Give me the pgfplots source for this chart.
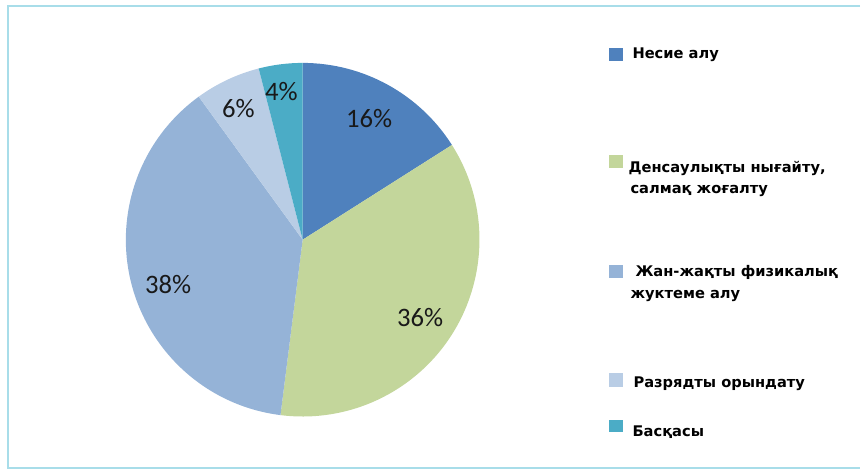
\documentclass[border=0pt]{standalone}
\usepackage{pgfplots}
\pgfplotsset{compat=1.18}
\usepackage{fontspec}
\setmainfont{DejaVu Sans}
\newfontfamily\lab{Carlito}
\definecolor{c1}{HTML}{4F81BD}
\definecolor{c2}{HTML}{C3D69B}
\definecolor{c3}{HTML}{95B3D7}
\definecolor{c4}{HTML}{B9CDE5}
\definecolor{c5}{HTML}{4BACC6}
\definecolor{framec}{HTML}{A8DDE9}
\newcommand\labfont{\lab\fontsize{20}{23}\selectfont}
\newcommand\legfont{\bfseries\fontsize{11}{13}\selectfont}
\begin{document}
\begin{tikzpicture}
\begin{axis}[width=645.75pt,height=352.5pt,scale only axis,
  xmin=0,xmax=861,ymin=0,ymax=470,hide axis,clip=false]
\path (axis cs:0,0) rectangle (axis cs:861,470);
\draw[framec,line width=1.5pt] (axis cs:861,464) -- (axis cs:8,464) -- (axis cs:8,1) -- (axis cs:861,1);
% pie: shares in percent, clockwise from 12 o'clock; label radius and angle shift
\def\cx{303}\def\cy{230}\def\R{177}
\xdef\cum{0}
\foreach \p/\c/\lr/\da in {16/c1/138/0,36/c2/141/-1,38/c3/142/4,6/c4/146/1,4/c5/150/1}{
  \pgfmathsetmacro\aa{90-3.6*\cum}
  \pgfmathsetmacro\ab{90-3.6*(\cum+\p)}
  \pgfmathsetmacro\am{(\aa+\ab)/2+\da}
  \pgfmathsetmacro\sx{\cx+\R*cos(\aa)}
  \pgfmathsetmacro\sy{\cy+\R*sin(\aa)}
  \pgfmathsetmacro\lx{\cx+\lr*cos(\am)}
  \pgfmathsetmacro\ly{\cy+\lr*sin(\am)}
  \edef\tmp{\noexpand\fill[\c] (axis cs:\cx,\cy) -- (axis cs:\sx,\sy) arc[start angle=\aa, end angle=\ab, radius=132.75pt] -- cycle;
   \noexpand\node[font=\noexpand\labfont,text=black!90] at (axis cs:\lx,\ly) {\p\noexpand\%};}
  \tmp
  \pgfmathsetmacro\nc{\cum+\p}
  \xdef\cum{\nc}
}
% legend
\fill[c1] (axis cs:610,409) rectangle (axis cs:624,422);
\fill[c2] (axis cs:610,302) rectangle (axis cs:624,315);
\fill[c3] (axis cs:610,192) rectangle (axis cs:624,205);
\fill[c4] (axis cs:610,83) rectangle (axis cs:624,97);
\fill[c5] (axis cs:610,37) rectangle (axis cs:624,50);
\node[anchor=base west,inner sep=0,font=\legfont] at (axis cs:633,411) {Несие алу};
\node[anchor=base west,inner sep=0,font=\legfont] at (axis cs:629,297) {Денсаулықты нығайту,};
\node[anchor=base west,inner sep=0,font=\legfont] at (axis cs:631,276) {салмақ жоғалту};
\node[anchor=base west,inner sep=0,font=\legfont] at (axis cs:636,193) {Жан-жақты физикалық};
\node[anchor=base west,inner sep=0,font=\legfont] at (axis cs:631,171) {жуктеме алу};
\node[anchor=base west,inner sep=0,font=\legfont] at (axis cs:634,82) {Разрядты орындату};
\node[anchor=base west,inner sep=0,font=\legfont] at (axis cs:633,33) {Басқасы};
\end{axis}
\end{tikzpicture}
\end{document}
